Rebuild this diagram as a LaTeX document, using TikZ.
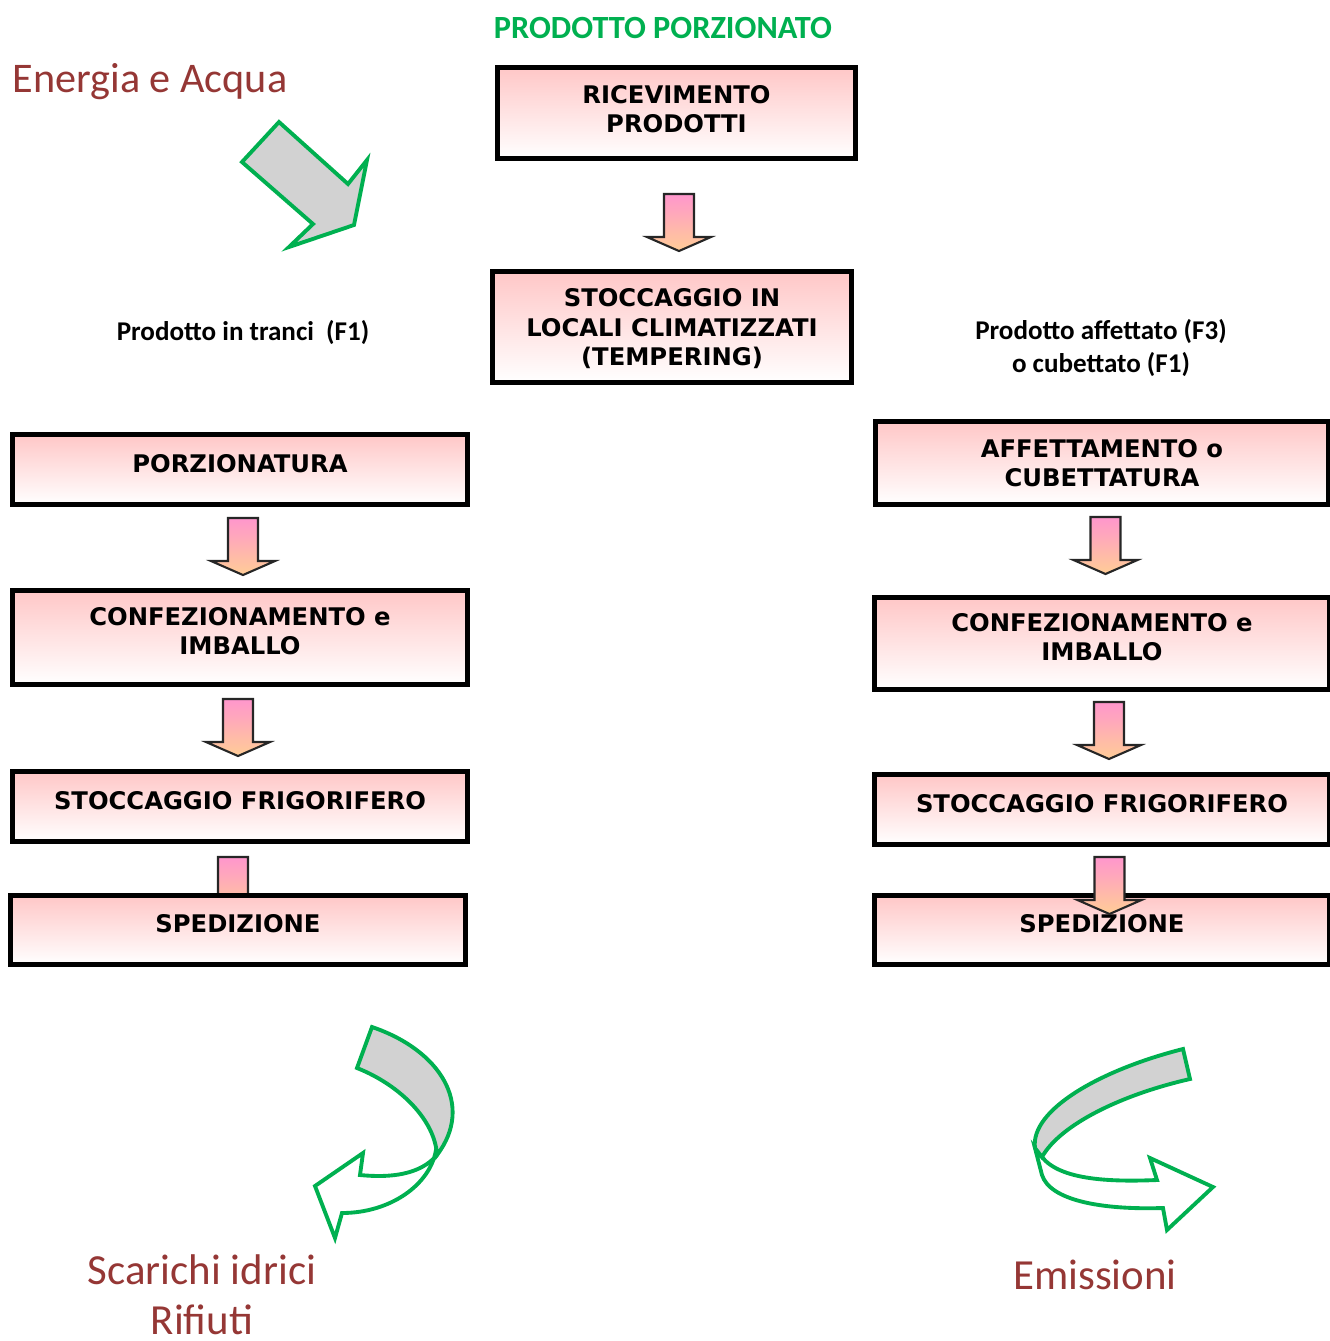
\documentclass[tikz,border=0pt]{standalone}
\usepackage{fontspec}
\setmainfont{Carlito}
\newfontfamily\boxfont{DejaVu Sans}
\definecolor{flowgreen}{RGB}{0,176,80}
\definecolor{labelred}{RGB}{149,55,53}
\definecolor{boxpink}{RGB}{255,199,199}
\definecolor{arrtop}{RGB}{255,150,205}
\definecolor{arrbot}{RGB}{255,205,150}
\definecolor{bandgray}{RGB}{210,210,210}
\tikzset{
  stepbox/.style={draw, line width=1.4pt, top color=boxpink, bottom color=white,
    align=center, inner sep=0pt, text depth=3.6pt,
    font=\boxfont\bfseries\fontsize{6.9}{8.3}\selectfont},
  sidelabel/.style={font=\bfseries\fontsize{7.7}{9.4}\selectfont, align=center},
  biglabel/.style={text=labelred, font=\fontsize{12.2}{14.2}\selectfont, align=center},
  greenshape/.style={draw=flowgreen, line width=1.1pt, line join=miter},
  flowarrow/.pic={
    \shade[draw=black!85, line width=0.6pt, top color=arrtop, bottom color=arrbot]
      (-15,0) -- (15,0) -- (15,43) -- (32,43) -- (0,57) -- (-32,43) -- (-15,43) -- cycle;
  }
}
\begin{document}
\begin{tikzpicture}[x=0.01cm, y=-0.01cm]
\useasboundingbox (0,0) rectangle (1330,1341);

% titles
\node[font=\bfseries\fontsize{9.2}{11}\selectfont, text=flowgreen] (title) at (663,28) {PRODOTTO PORZIONATO};
\node[biglabel, anchor=west, inner sep=0pt, font=\fontsize{12}{14}\selectfont] (energia) at (12,82) {Energia e Acqua};
\node[sidelabel] (tranci) at (243,332) {Prodotto in tranci~~(F1)};
\node[sidelabel] (affettato) at (1101,348) {Prodotto affettato (F3)\\o cubettato (F1)};

% central column
\node[stepbox, text depth=2.4pt, minimum width=3.58cm, minimum height=0.91cm] (ricev) at (676.5,113) {RICEVIMENTO\\PRODOTTI};
\node[stepbox, text depth=0pt, minimum width=3.59cm, minimum height=1.11cm] (temper) at (672,327) {STOCCAGGIO IN\\LOCALI CLIMATIZZATI\\(TEMPERING)};
\pic at (679,194) {flowarrow};

% left column
\node[stepbox, minimum width=4.55cm, minimum height=0.70cm] (porz) at (240,469.5) {PORZIONATURA};
\node[stepbox, minimum width=4.55cm, minimum height=0.94cm] (confsx) at (240,637.5) {CONFEZIONAMENTO e\\IMBALLO};
\node[stepbox, minimum width=4.55cm, minimum height=0.70cm] (frigsx) at (240,806.5) {STOCCAGGIO FRIGORIFERO};
\pic at (243,518) {flowarrow};
\pic at (238,699) {flowarrow};
\pic at (233,857) {flowarrow};
\node[stepbox, minimum width=4.55cm, minimum height=0.69cm] (spedsx) at (238,930) {SPEDIZIONE};

% right column
\node[stepbox, text depth=0pt, minimum width=4.53cm, minimum height=0.83cm] (affet) at (1102,463) {AFFETTAMENTO o\\CUBETTATURA};
\node[stepbox, minimum width=4.54cm, minimum height=0.92cm] (confdx) at (1102,643.5) {CONFEZIONAMENTO e\\IMBALLO};
\node[stepbox, minimum width=4.54cm, minimum height=0.70cm] (frigdx) at (1102,809.5) {STOCCAGGIO FRIGORIFERO};
\node[stepbox, minimum width=4.54cm, minimum height=0.69cm] (speddx) at (1102,930) {SPEDIZIONE};
\pic at (1105.5,517) {flowarrow};
\pic at (1109,702) {flowarrow};
\pic at (1109.5,857) {flowarrow};

% energy input arrow
\draw[greenshape, fill=bandgray] (242,162) -- (279,122) -- (348,184) -- (367,160)
  -- (354,225) -- (289,247) -- (313,224) -- cycle;

% outputs: bent arrows
\draw[greenshape, fill=white] (437,1155) .. controls (420,1175) and (390,1178) .. (360,1175)
  -- (363,1153) -- (315,1186) -- (335,1238) -- (342,1213)
  .. controls (390,1213) and (430,1185) .. (436,1150) -- cycle;
\draw[greenshape, fill=bandgray] (372,1027) .. controls (440,1050) and (475,1105) .. (437,1155)
  .. controls (435,1120) and (400,1085) .. (357,1068) -- cycle;

\draw[greenshape, fill=white] (1042,1157) .. controls (1060,1180) and (1110,1182) .. (1157,1180)
  -- (1150,1158) -- (1213,1187) -- (1167,1230) -- (1163,1208)
  .. controls (1100,1210) and (1050,1200) .. (1042,1175) -- (1035,1148) -- cycle;
\draw[greenshape, fill=bandgray] (1183,1049) .. controls (1100,1070) and (1030,1110) .. (1035,1148)
  -- (1042,1157) .. controls (1060,1125) and (1120,1095) .. (1190,1079) -- cycle;

\node[biglabel] (scarichi) at (202,1295) {Scarichi idrici\\Rifiuti};
\node[biglabel] (emissioni) at (1095,1275) {Emissioni};
\end{tikzpicture}
\end{document}
